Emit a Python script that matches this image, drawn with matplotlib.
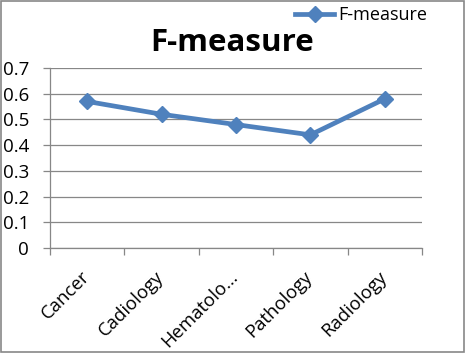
import matplotlib
matplotlib.use("Agg")
import matplotlib.pyplot as plt
import matplotlib.transforms as mtransforms
import numpy as np

# data
categories = ["Cancer", "Cadiology", "Hematolo...", "Pathology", "Radiology"]
f_measure = [0.57, 0.52, 0.48, 0.44, 0.58]
y_ticks = [0, 0.1, 0.2, 0.3, 0.4, 0.5, 0.6, 0.7]
y_labels = ["0", "0.1", "0.2", "0.3", "0.4", "0.5", "0.6", "0.7"]

plt.rcParams['font.family'] = ['Open Sans', 'DejaVu Sans']

fig = plt.figure(figsize=(4.65, 3.53), dpi=100)
ax = fig.add_axes([50/465, 1 - 248/353, 372/465, 180/353])

x = np.arange(len(categories))
ax.plot(x, f_measure, color='#4F81BD', linewidth=3.4, marker='D',
        markersize=8.5, label='F-measure')

ax.set_xlim(-0.5, len(categories) - 0.5)
ax.set_ylim(0, 0.7)
ax.set_yticks(y_ticks)
ax.set_yticklabels(y_labels, fontsize=13.5)
ax.yaxis.grid(True, color='#878787', linewidth=0.9)
ax.set_axisbelow(True)

# category labels at centers, tick marks on boundaries
ax.set_xticks(x)
ax.set_xticklabels(categories, rotation=45, ha='right', rotation_mode='anchor', fontsize=13.3)
ax.tick_params(axis='x', which='major', length=0, pad=14)
ax.set_xticks(np.arange(-0.5, len(categories)), minor=True)
ax.tick_params(axis='x', which='minor', length=5, color='#878787', width=0.9)
ax.tick_params(axis='y', length=5, color='#878787', width=0.9, pad=10)
shift = mtransforms.ScaledTranslation(-5/72, 0, fig.dpi_scale_trans)
for lbl in ax.get_xticklabels():
    lbl.set_transform(lbl.get_transform() + shift)

for side in ['top', 'right']:
    ax.spines[side].set_visible(False)
ax.spines['left'].set_color('#878787')
ax.spines['bottom'].set_color('#878787')
ax.spines['left'].set_linewidth(0.9)
ax.spines['bottom'].set_linewidth(0.9)

fig.text(232/465, 1 - 43/353, "F-measure", fontsize=22.5, fontweight='bold',
         ha='center', va='center')

fig.legend(loc='upper right', bbox_to_anchor=(436/465, 1.008), frameon=False,
           fontsize=13, handlelength=2.2, borderpad=0.0, handletextpad=0.2)

# outer border
fig.patches.append(plt.Rectangle((0.002, 0.003), 0.995, 0.994, transform=fig.transFigure,
                                 fill=False, edgecolor='#878787', linewidth=1.2))

fig.savefig("out.png", dpi=100)
